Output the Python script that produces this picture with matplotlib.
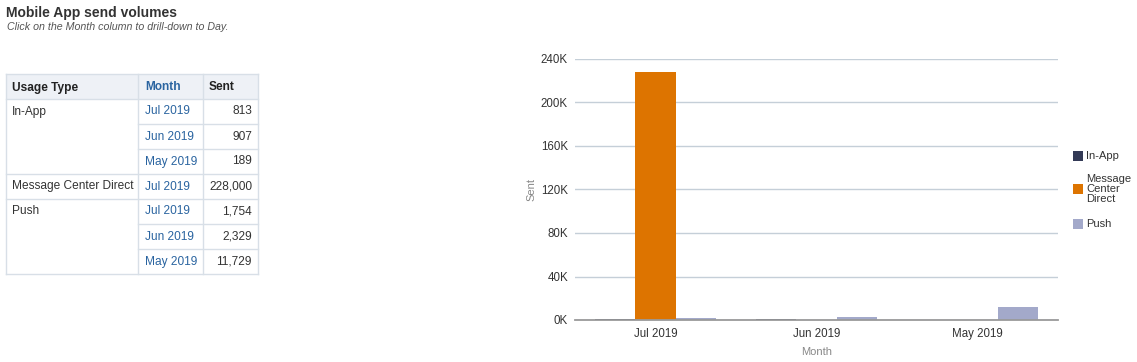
import matplotlib
matplotlib.use("Agg")
import matplotlib.pyplot as plt
from matplotlib.patches import Rectangle
from matplotlib.lines import Line2D
from matplotlib.ticker import FuncFormatter
import numpy as np

plt.rcParams['font.family'] = ['Liberation Sans', 'DejaVu Sans']

# ---- data ----
title = "Mobile App send volumes"
subtitle = "Click on the Month column to drill-down to Day."
months = ["Jul 2019", "Jun 2019", "May 2019"]
series_names = ["In-App", "Message\nCenter\nDirect", "Push"]
in_app = [813, 907, 189]
mcd = [228000, 0, 0]
push = [1754, 2329, 11729]
colors = ["#333a56", "#dd7400", "#a3a9ca"]

table_header = ["Usage Type", "Month", "Sent"]
table_usage = ["In-App", "", "", "Message Center Direct", "Push", "", ""]
table_month = ["Jul 2019", "Jun 2019", "May 2019", "Jul 2019", "Jul 2019", "Jun 2019", "May 2019"]
table_sent = ["813", "907", "189", "228,000", "1,754", "2,329", "11,729"]

W, H = 1137, 362
fig = plt.figure(figsize=(W / 100, H / 100), dpi=100)

def fx(x):
    return x / W

def fy(y):
    return 1 - y / H

# title
fig.text(fx(6), fy(13), title, fontsize=10, fontweight='bold', color='#333333', va='center', ha='left')
fig.text(fx(7), fy(27), subtitle, fontsize=7.7, style='italic', color='#555555', va='center', ha='left')

# ---- table ----
col_x = [6, 138, 203, 258]
row_top = 74
row_h = 25
n_rows = len(table_month)
border = '#d8dfe7'
tfs = 8.6
fig.patches.append(Rectangle((fx(col_x[0]), fy(row_top + row_h)), fx(col_x[-1] - col_x[0]), row_h / H,
                             transform=fig.transFigure, facecolor='#eef1f6', edgecolor='none'))
bottom_y = row_top + row_h * (n_rows + 1)
fig.lines.append(Line2D([fx(col_x[0]), fx(col_x[-1])], [fy(row_top), fy(row_top)], transform=fig.transFigure, color=border, lw=1))
fig.lines.append(Line2D([fx(col_x[0]), fx(col_x[-1])], [fy(row_top + row_h), fy(row_top + row_h)], transform=fig.transFigure, color=border, lw=1))
for i in range(n_rows):
    yb = row_top + row_h * (i + 2)
    group_end = (i == n_rows - 1) or (table_usage[i + 1] != "")
    x_start = col_x[0] if group_end else col_x[1]
    fig.lines.append(Line2D([fx(x_start), fx(col_x[-1])], [fy(yb), fy(yb)], transform=fig.transFigure, color=border, lw=1))
for x in col_x:
    fig.lines.append(Line2D([fx(x), fx(x)], [fy(row_top), fy(bottom_y)], transform=fig.transFigure, color=border, lw=1))

hy = row_top + row_h / 2 + 1
fig.text(fx(col_x[0] + 6), fy(hy), table_header[0], fontsize=tfs, fontweight='bold', color='#222222', va='center')
fig.text(fx(col_x[1] + 7), fy(hy), table_header[1], fontsize=tfs, fontweight='bold', color='#2a64a0', va='center')
fig.text(fx(col_x[2] + 6), fy(hy), table_header[2], fontsize=tfs, fontweight='bold', color='#222222', va='center')
for i in range(n_rows):
    cy = row_top + row_h * (i + 1) + row_h / 2
    if table_usage[i]:
        fig.text(fx(col_x[0] + 6), fy(cy), table_usage[i], fontsize=tfs, color='#333333', va='center')
    fig.text(fx(col_x[1] + 7), fy(cy), table_month[i], fontsize=tfs, color='#2a64a0', va='center')
    fig.text(fx(col_x[3] - 6), fy(cy), table_sent[i], fontsize=tfs, color='#333333', va='center', ha='right')

# ---- chart ----
ax_l, ax_r, ax_t, ax_b = 575, 1058, 59, 320
ax = fig.add_axes([fx(ax_l), fy(ax_b), fx(ax_r - ax_l), (ax_b - ax_t) / H])
x = np.arange(len(months))
bw = 0.25
for k, (vals, c) in enumerate(zip([in_app, mcd, push], colors)):
    ax.bar(x + (k - 1) * bw, vals, width=bw, color=c, zorder=3)
ax.set_xlim(-0.5, len(months) - 0.5)
ax.set_ylim(0, 240000)
ax.set_yticks(np.arange(0, 240001, 40000))
ax.yaxis.set_major_formatter(FuncFormatter(lambda v, p: f"{int(v/1000)}K"))
ax.set_xticks(x)
ax.set_xticklabels(months)
ax.grid(axis='y', color='#c5cfd8', lw=1, zorder=0)
for s in ['top', 'right', 'left']:
    ax.spines[s].set_visible(False)
ax.spines['bottom'].set_color('#9a9a9a')
ax.spines['bottom'].set_linewidth(1.3)
ax.spines['bottom'].set_zorder(5)
ax.tick_params(axis='both', length=0, labelsize=8.3, labelcolor='#333333')
ax.tick_params(axis='y', pad=5)
ax.tick_params(axis='x', pad=6)
ax.set_ylabel("Sent", fontsize=8, color='#888888', labelpad=3)
ax.set_xlabel("Month", fontsize=8, color='#888888', labelpad=5)

# legend
leg_y = [156, 189, 224]
for name, c, ly in zip(series_names, colors, leg_y):
    fig.patches.append(Rectangle((fx(1073), fy(ly + 5)), fx(10), 10 / H, transform=fig.transFigure,
                                 facecolor=c, edgecolor='none'))
    fig.text(fx(1086), fy(ly), name, fontsize=8, color='#333333', va='center', ha='left', linespacing=0.95)

fig.savefig("out.png", dpi=100, facecolor='white')
